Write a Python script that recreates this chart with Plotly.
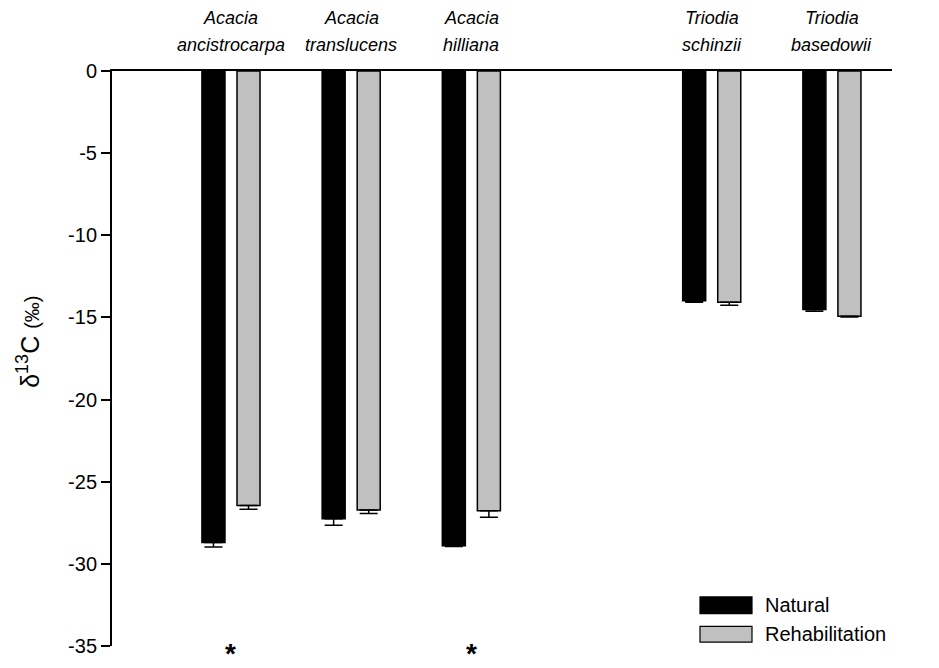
import plotly.graph_objects as go

# Species along the x axis; the blank slot separates Acacia from Triodia
genus = ["Acacia", "Acacia", "Acacia", "Triodia", "Triodia"]
epithet = ["ancistrocarpa", "translucens", "hilliana", "schinzii", "basedowii"]
species = [f"{g} {e}" for g, e in zip(genus, epithet)]
categories = species[:3] + [" "] + species[3:]

# delta 13C (per mil) means and standard errors
natural = [-28.7, -27.25, -28.9, -13.98, -14.52]
natural_se = [0.28, 0.4, 0.05, 0.1, 0.1]
rehab = [-26.45, -26.72, -26.76, -14.08, -14.93]
rehab_se = [0.22, 0.22, 0.4, 0.18, 0.05]

# species with a significant difference
signif = ["Acacia ancistrocarpa", "Acacia hilliana"]

y_ticks = [0, -5, -10, -15, -20, -25, -30, -35]

FONT = "Liberation Sans, Arial, sans-serif"

fig = go.Figure()
fig.add_trace(go.Bar(
    x=species, y=natural, name="Natural",
    marker=dict(color="#000000", line=dict(color="#000000", width=1.5)),
    error_y=dict(type="data", symmetric=False, array=[0] * len(natural),
                 arrayminus=natural_se, color="#000000", thickness=1.5, width=9),
))
fig.add_trace(go.Bar(
    x=species, y=rehab, name="Rehabilitation",
    marker=dict(color="#c0c0c0", line=dict(color="#000000", width=1.5)),
    error_y=dict(type="data", symmetric=False, array=[0] * len(rehab),
                 arrayminus=rehab_se, color="#000000", thickness=1.5, width=9),
))

# italic two-line species names above the top axis
for sp, g, e in zip(species, genus, epithet):
    fig.add_annotation(x=sp, xref="x", y=1, yref="paper", text=f"<i>{g}</i>",
                       showarrow=False, yanchor="middle", yshift=53,
                       font=dict(family=FONT, size=18, color="#000000"))
    fig.add_annotation(x=sp, xref="x", y=1, yref="paper", text=f"<i>{e}</i>",
                       showarrow=False, yanchor="middle", yshift=26,
                       font=dict(family=FONT, size=18, color="#000000"))

# significance markers below the bars (compact box holding just the glyph)
for s in signif:
    fig.add_annotation(x=s, xref="x", y=0, yref="paper", text="<b>*</b>",
                       showarrow=False, yanchor="bottom", yshift=-10,
                       height=17, valign="top", borderpad=0,
                       font=dict(family=FONT, size=28, color="#000000"))

# legend drawn as wide swatches, bottom right
W, H = 780.0, 586.0
def px(x):
    return (x - 112) / W
def py(y):
    return (657 - y) / H

legend_items = [("Natural", "#000000", 607, 624), ("Rehabilitation", "#c0c0c0", 637, 653)]
for label, color, y0, y1 in legend_items:
    fig.add_shape(type="rect", xref="paper", yref="paper",
                  x0=px(700), x1=px(752), y0=py(y1), y1=py(y0),
                  fillcolor=color, line=dict(color="#000000", width=1.2))
    fig.add_annotation(xref="paper", yref="paper", x=px(763), y=py((y0 + y1) / 2),
                       text=label, showarrow=False, xanchor="left", yanchor="middle",
                       font=dict(family=FONT, size=20, color="#000000"))

# rotated y-axis title
fig.add_annotation(xref="paper", yref="paper", x=px(28), y=py(347),
                   text="δ<sup><span style='font-size:18px'>13</span></sup>C "
                        "<span style='font-size:20px'>(‰)</span>",
                   textangle=-90, showarrow=False, xanchor="center", yanchor="middle",
                   font=dict(family=FONT, size=25, color="#000000"))

fig.update_layout(
    width=939, height=668,
    margin=dict(l=112, r=47, t=71, b=11),
    paper_bgcolor="white", plot_bgcolor="white",
    barmode="group", bargap=0.4167, bargroupgap=0.343,
    showlegend=False,
    font=dict(family=FONT, size=20, color="#000000"),
)
fig.update_xaxes(
    type="category", categoryarray=categories, categoryorder="array",
    range=[-0.99, 5.5], side="top",
    showline=True, linecolor="#000000", linewidth=2, mirror=False,
    ticks="", showticklabels=False, showgrid=False, zeroline=False,
)
fig.update_yaxes(
    range=[-35, 0], tickvals=y_ticks, ticktext=[str(v) for v in y_ticks],
    showline=True, linecolor="#000000", linewidth=2,
    ticks="outside", ticklen=9, tickwidth=1.5, tickcolor="#000000",
    showgrid=False, zeroline=False,
    tickfont=dict(family=FONT, size=20),
)

fig.write_html("out.html")
